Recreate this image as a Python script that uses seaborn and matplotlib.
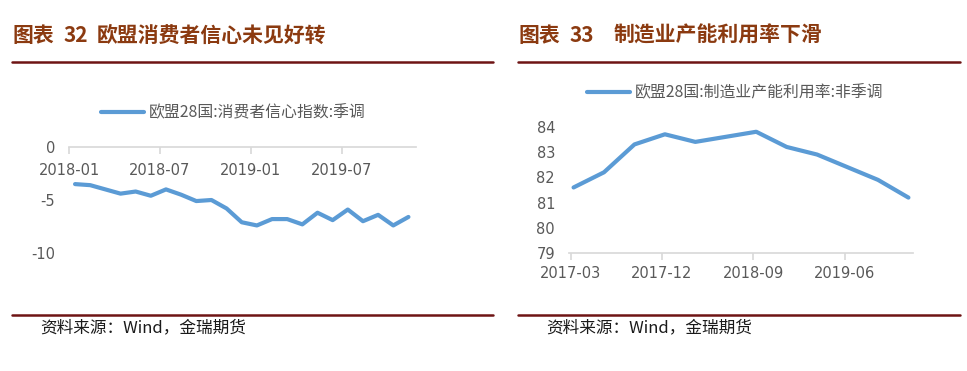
import matplotlib
matplotlib.use('Agg')
import matplotlib.pyplot as plt
import seaborn as sns
import pandas as pd

# 图表32 欧盟28国:消费者信心指数:季调 (2018-01 ~ 2019-11, 月度)
conf_months = pd.date_range('2018-01', '2019-11', freq='MS').strftime('%Y-%m').tolist()
conf_values = [-3.5, -3.6, -4.0, -4.4, -4.2, -4.6, -4.0, -4.5, -5.1, -5.0, -5.8, -7.1,
               -7.4, -6.8, -6.8, -7.3, -6.2, -6.9, -5.9, -7.0, -6.4, -7.4, -6.6]
conf_ticks = ['2018-01', '2018-07', '2019-01', '2019-07']

# 图表33 欧盟28国:制造业产能利用率:非季调 (2017-03 ~ 2019-12, 季度)
cap_quarters = pd.date_range('2017-03', '2019-12', freq='3MS').strftime('%Y-%m').tolist()
cap_values = [81.6, 82.2, 83.3, 83.7, 83.4, 83.6, 83.8, 83.2, 82.9, 82.4, 81.9, 81.2]
cap_ticks = ['2017-03', '2017-12', '2018-09', '2019-06']

sns.set_theme(style='white')
plt.rcParams['font.family'] = ['DejaVu Sans', 'Noto Sans CJK SC']

BLUE = '#5B9BD5'
GREY = '#595959'
AXIS = '#D9D9D9'
TITLE = '#8B3A10'
RULE = '#6E1414'
CJK = ['Noto Sans CJK SC', 'DejaVu Sans']

W, H = 967, 371
fig = plt.figure(figsize=(W / 100, H / 100), dpi=100)


def fx(px):
    return px / W


def fy(py):
    return 1 - py / H


def frame(x0, x1, x1b, head, num, title, gap):
    fig.text(fx(x0), fy(35), head, fontsize=15, fontweight='bold', color=TITLE,
             family=CJK, va='center', ha='left')
    fig.text(fx(x0 + 52), fy(35), num, fontsize=15, fontweight='bold', color=TITLE,
             family=CJK, va='center', ha='left')
    fig.text(fx(x0 + gap), fy(35), title, fontsize=15, fontweight='bold', color=TITLE,
             family=CJK, va='center', ha='left')
    fig.add_artist(plt.Line2D([fx(x0), fx(x1)], [fy(61.5), fy(61.5)], color=RULE, lw=1.8))
    fig.add_artist(plt.Line2D([fx(x0), fx(x1b)], [fy(315), fy(315)], color=RULE, lw=1.8))
    fig.text(fx(x0 + 28), fy(328), '资料来源：Wind，金瑞期货', fontsize=12, color='#1a1a1a',
             family=CJK, va='center', ha='left')


frame(12, 493, 493, '图表', '32', '欧盟消费者信心未见好转', 85)
frame(518, 960, 960, '图表', '33', '制造业产能利用率下滑', 96)

# ---- left chart ----
df1 = pd.DataFrame({'idx': range(len(conf_months)), 'value': conf_values})
ax1 = fig.add_axes([fx(69), fy(253), fx(416 - 69), fy(147) - fy(253)])
sns.lineplot(data=df1, x='idx', y='value', ax=ax1, color=BLUE, lw=3,
             label='欧盟28国:消费者信心指数:季调')
ax1.set_xlim(-0.4, len(conf_months) - 0.5)
ax1.set_ylim(-10, 0)
ax1.set_yticks([0, -5, -10])
ax1.set_yticklabels(['0', '-5', '-10'])
ax1.set_xticks([conf_months.index(t) - 0.4 for t in conf_ticks])
ax1.set_xticklabels(conf_ticks)
for s in ['left', 'right', 'bottom']:
    ax1.spines[s].set_visible(False)
ax1.spines['top'].set_color(AXIS)
ax1.xaxis.tick_top()
ax1.tick_params(axis='x', which='both', top=True, direction='in', length=5, color=AXIS,
                labeltop=False, labelbottom=False)
ax1.tick_params(axis='y', left=False, labelsize=10.5, labelcolor=GREY, pad=4)
for t, i in zip(conf_ticks, ax1.get_xticks()):
    ax1.text(i, -2.2, t, ha='center', va='center', fontsize=10.5, color=GREY)
ax1.set_xlabel('')
ax1.set_ylabel('')
ax1.legend(loc='center left', bbox_to_anchor=(fx(95), fy(113)), bbox_transform=fig.transFigure,
           frameon=False, handlelength=2.7, handletextpad=0.3, borderaxespad=0,
           prop={'family': CJK, 'size': 11.4}, labelcolor=GREY)

# ---- right chart ----
df2 = pd.DataFrame({'idx': range(len(cap_quarters)), 'value': cap_values})
ax2 = fig.add_axes([fx(569), fy(253.3), fx(913 - 569), fy(126.7) - fy(253.3)])
sns.lineplot(data=df2, x='idx', y='value', ax=ax2, color=BLUE, lw=3,
             label='欧盟28国:制造业产能利用率:非季调')
ax2.set_xlim(-0.15, len(cap_quarters) - 0.85)
ax2.set_ylim(79, 84)
ax2.set_yticks([79, 80, 81, 82, 83, 84])
ax2.set_xticks([cap_quarters.index(t) - 0.1 for t in cap_ticks])
ax2.set_xticklabels(cap_ticks)
for s in ['left', 'right', 'top']:
    ax2.spines[s].set_visible(False)
ax2.spines['bottom'].set_color(AXIS)
ax2.tick_params(axis='x', bottom=True, direction='out', length=5, color=AXIS,
                labelsize=10.5, labelcolor=GREY, pad=4)
ax2.tick_params(axis='y', left=False, labelsize=10.5, labelcolor=GREY, pad=4)
ax2.set_xlabel('')
ax2.set_ylabel('')
ax2.legend(loc='center left', bbox_to_anchor=(fx(581), fy(93)), bbox_transform=fig.transFigure,
           frameon=False, handlelength=2.7, handletextpad=0.3, borderaxespad=0,
           prop={'family': CJK, 'size': 11.4}, labelcolor=GREY)

fig.savefig('out.png', dpi=100)
